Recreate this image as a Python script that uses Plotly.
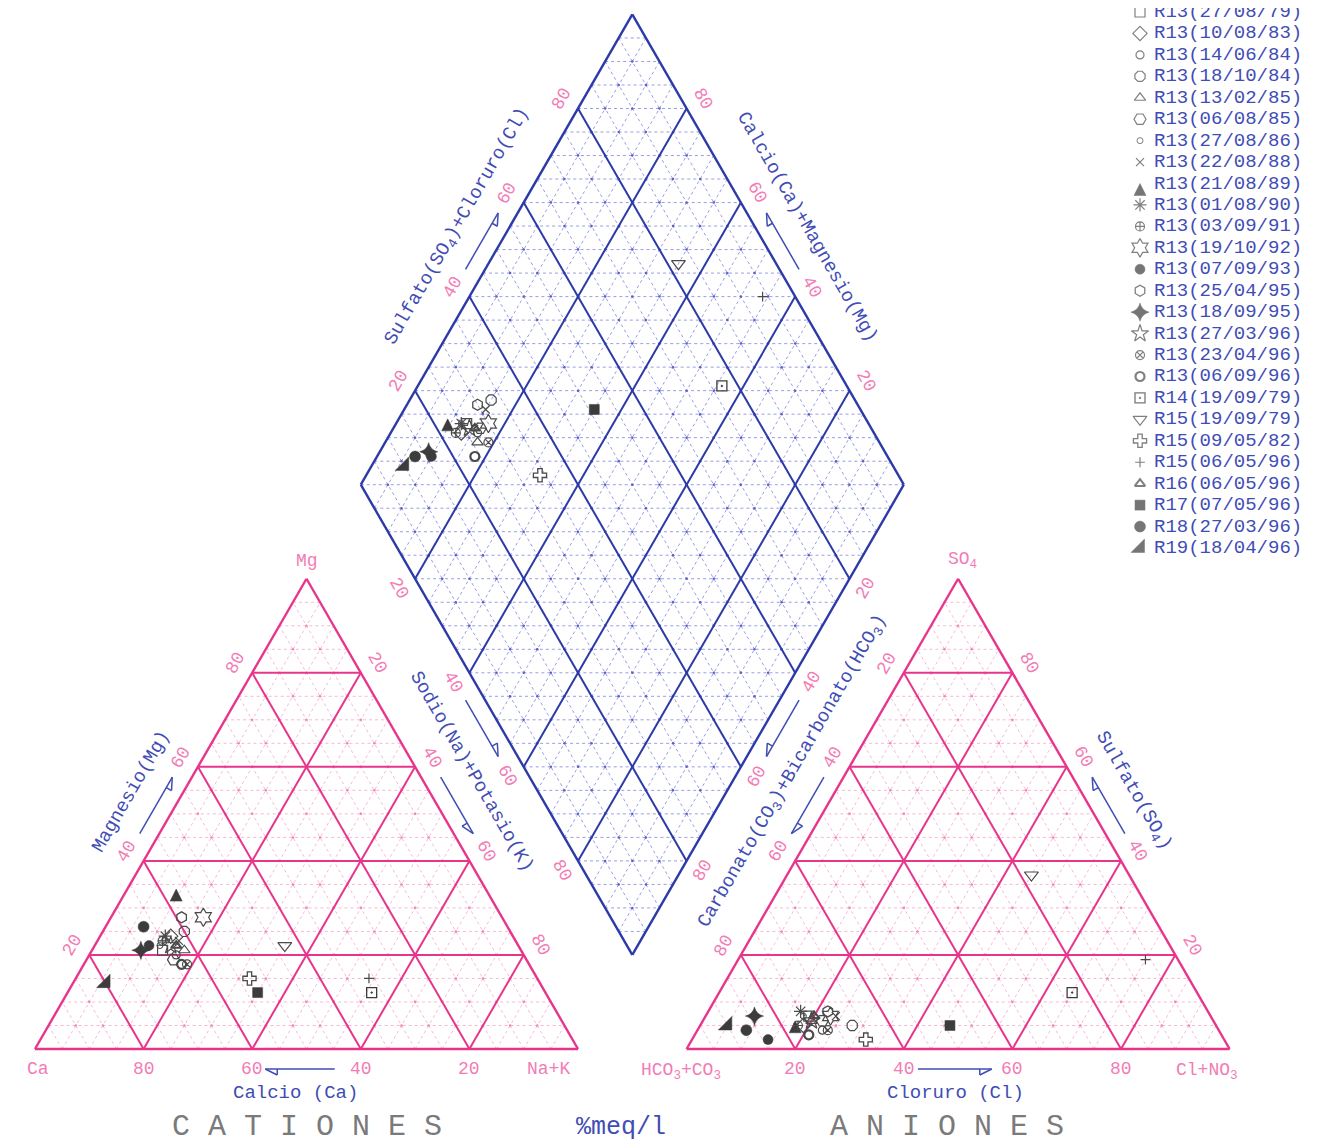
import numpy as np
import plotly.graph_objects as go

# ---------------- data (% meq/l) ----------------
samples = ["R13(27/08/79)", "R13(10/08/83)", "R13(14/06/84)", "R13(18/10/84)",
           "R13(13/02/85)", "R13(06/08/85)", "R13(27/08/86)", "R13(22/08/88)",
           "R13(21/08/89)", "R13(01/08/90)", "R13(03/09/91)", "R13(19/10/92)",
           "R13(07/09/93)", "R13(25/04/95)", "R13(18/09/95)", "R13(27/03/96)",
           "R13(23/04/96)", "R13(06/09/96)", "R14(19/09/79)", "R15(19/09/79)",
           "R15(09/05/82)", "R15(06/05/96)", "R16(06/05/96)", "R17(07/05/96)",
           "R18(27/03/96)", "R19(18/04/96)"]
ca   = [66, 63, 64, 60, 62, 65, 66, 62, 57, 64, 65, 55, 68, 59, 70, 64, 63, 64, 32, 43, 53, 31, 63, 53, 67, 80]
mg   = [21, 24, 20, 25, 21, 19, 22, 23, 34, 24, 23, 28, 22, 28, 21, 22, 18, 18, 12, 22, 15, 15, 22, 12, 26, 14]
nak  = [13, 13, 16, 15, 17, 16, 12, 15,  9, 12, 12, 17, 10, 13,  9, 14, 19, 18, 56, 35, 32, 54, 15, 35,  7,  6]
hco3 = [74, 76, 73, 67, 74, 72, 75, 69, 77, 75, 77, 70, 84, 70, 84, 74, 72, 76, 23, 18, 66,  6, 73, 49, 87, 90]
so4  = [ 7,  5,  4,  5,  6,  6,  7,  7,  6,  8,  5,  7,  2,  8,  7,  6,  4,  3, 12, 37,  2, 19,  7,  5,  4,  5]
cl   = [19, 19, 23, 28, 20, 22, 18, 24, 17, 17, 18, 23, 14, 22,  9, 20, 24, 21, 65, 45, 32, 75, 20, 46,  9,  5]
ticks = [20, 40, 60, 80]

# marker styles (one per sample)
symbols = ["square-open", "diamond-open", "circle-open", "octagon-open", "triangle-up-open",
           "hexagon2-open", "circle-open", "x-thin-open", "arrow-up", "asterisk-open",
           "circle-cross-open", "hexagram-open", "circle", "hexagon-open", "star-diamond",
           "star-open", "circle-x-open", "circle-open", "square-open-dot", "triangle-down-open",
           "cross-open", "cross-thin-open", "triangle-up-open", "square", "circle", "triangle-se"]
msizes = [10, 11, 8, 11, 10, 12, 6, 8, 12, 11, 9, 14, 10, 11, 13, 13, 9, 9, 10, 12, 11, 7, 9, 10, 11, 15]
mwidth = [1.2, 1.2, 1.2, 1.2, 1.2, 1.2, 1.0, 1.2, 0.5, 1.2, 1.2, 1.2, 0.5, 1.3, 0.5, 1.2, 1.2, 2.2, 1.3,
          1.2, 1.3, 1.2, 2.0, 0.5, 0.5, 0.5]

# ---------------- geometry (screen pixels) ----------------
S = 5.43            # pixels per percent unit
OX, OY = 35.0, 1049.0   # screen position of the Ca corner
PAGE = 8            # default body margin of the html page
W, H = 1310, 1140
H3 = np.sqrt(3) / 2


def px_x(p):
    return (p - OX) / S


def px_y(p):
    return (OY - p) / S


def pl(d):
    return d / S


CAT = ((0.0, 0.0), (100.0, 0.0), (50.0, 100 * H3))        # Ca, Na+K, Mg
AN = ((120.0, 0.0), (220.0, 0.0), (170.0, 100 * H3))      # HCO3+CO3, Cl, SO4
DL = (60.0, 120 * H3)                                     # diamond left vertex


def bary(T, p, q, r):
    return ((p * T[0][0] + q * T[1][0] + r * T[2][0]) / 100.0,
            (p * T[0][1] + q * T[1][1] + r * T[2][1]) / 100.0)


def dia(a, b):
    return (DL[0] + 0.5 * (a + b), DL[1] + H3 * (a - b))


def tri_lines(T, vals):
    segs = []
    for v in vals:
        segs.append((bary(T, v, 100 - v, 0), bary(T, v, 0, 100 - v)))
        segs.append((bary(T, 100 - v, v, 0), bary(T, 0, v, 100 - v)))
        segs.append((bary(T, 100 - v, 0, v), bary(T, 0, 100 - v, v)))
    return segs


def dia_lines(vals):
    segs = []
    for v in vals:
        segs.append((dia(v, 0), dia(v, 100)))
        segs.append((dia(0, v), dia(100, v)))
    return segs


def dia_horiz(step):
    segs = []
    for k in range(-100 + step, 100, step):
        if k >= 0:
            segs.append((dia(k, 0), dia(100, 100 - k)))
        else:
            segs.append((dia(0, -k), dia(100 + k, 100)))
    return segs


def seg_xy(segs):
    xs, ys = [], []
    for (p0, p1) in segs:
        xs += [p0[0], p1[0], None]
        ys += [p0[1], p1[1], None]
    return xs, ys


PINK = "#e8358c"
PINK_MINOR = "#f6a6cc"
PINK_TXT = "#f27cb6"
BLUE = "#2c3aa8"
BLUE_MINOR = "#7f84dc"
BLUE_TXT = "#3f4db5"
GREY = "#7a7a7a"
FONT = "Liberation Mono"

fig = go.Figure()


def add_lines(segs, color, width, dash="solid"):
    xs, ys = seg_xy(segs)
    fig.add_trace(go.Scatter(x=xs, y=ys, mode="lines", hoverinfo="skip", showlegend=False,
                             line=dict(color=color, width=width, dash=dash)))


minor = [v for v in range(5, 100, 5) if v % 20 != 0]

# minor grids
add_lines(tri_lines(CAT, minor), PINK_MINOR, 0.8, "dot")
add_lines(tri_lines(AN, minor), PINK_MINOR, 0.8, "dot")
add_lines(dia_lines(minor), BLUE_MINOR, 0.8, "dot")
add_lines(dia_horiz(5), BLUE_MINOR, 0.8, "dot")

# lattice dots
for T in (CAT, AN):
    dx, dy = [], []
    for p in range(5, 100, 5):
        for q in range(5, 100 - p, 5):
            pt = bary(T, p, q, 100 - p - q)
            dx.append(pt[0]); dy.append(pt[1])
    fig.add_trace(go.Scatter(x=dx, y=dy, mode="markers", hoverinfo="skip", showlegend=False,
                             marker=dict(size=2.5, color="#ef86bb")))
dx, dy = [], []
for a in range(5, 100, 5):
    for b in range(5, 100, 5):
        pt = dia(a, b)
        dx.append(pt[0]); dy.append(pt[1])
fig.add_trace(go.Scatter(x=dx, y=dy, mode="markers", hoverinfo="skip", showlegend=False,
                         marker=dict(size=2.5, color="#5a60c8")))

# major grids
add_lines(tri_lines(CAT, ticks), PINK, 2)
add_lines(tri_lines(AN, ticks), PINK, 2)
add_lines(dia_lines(ticks), BLUE, 2)
# outlines
for T in (CAT, AN):
    add_lines([(T[0], T[1]), (T[1], T[2]), (T[2], T[0])], PINK, 2.4)
add_lines([(dia(0, 0), dia(100, 0)), (dia(100, 0), dia(100, 100)),
           (dia(100, 100), dia(0, 100)), (dia(0, 100), dia(0, 0))], BLUE, 2.4)

# ---------------- arrows ----------------
arrow_segs = []


def arrow(tail, tip, side):
    d = np.array(tip) - np.array(tail)
    d = d / np.linalg.norm(d)
    n = np.array(side)
    L, Wd = pl(12), pl(6)
    t = np.array(tip)
    b = t - d * L
    c = b + n * Wd
    arrow_segs.append((tuple(tail), tuple(tip)))
    arrow_segs.append((tuple(t), tuple(c)))
    arrow_segs.append((tuple(c), tuple(b)))


def off(pt, n, dist):
    return (pt[0] + n[0] * pl(dist), pt[1] + n[1] * pl(dist))


NL = (-H3, 0.5)
NR = (H3, 0.5)
NLL = (-H3, -0.5)
NLR = (H3, -0.5)
AO = 17
arrow(off(bary(CAT, 56, 0, 44), NL, AO), off(bary(CAT, 44, 0, 56), NL, AO), (H3, -0.5))
arrow(off(bary(CAT, 0, 44, 56), NR, AO), off(bary(CAT, 0, 56, 44), NR, AO), (-H3, -0.5))
arrow(off(bary(AN, 44, 0, 56), NL, AO), off(bary(AN, 56, 0, 44), NL, AO), (H3, -0.5))
arrow(off(bary(AN, 0, 56, 44), NR, AO), off(bary(AN, 0, 44, 56), NR, AO), (-H3, -0.5))
arrow(off(dia(44, 0), NL, AO), off(dia(56, 0), NL, AO), (H3, -0.5))
arrow(off(dia(100, 56), NR, AO), off(dia(100, 44), NR, AO), (-H3, -0.5))
arrow(off(dia(0, 44), NLL, AO), off(dia(0, 56), NLL, AO), (H3, 0.5))
arrow(off(dia(56, 100), NLR, AO), off(dia(44, 100), NLR, AO), (-H3, 0.5))
arrow((bary(CAT, 44.8, 55.2, 0)[0], -pl(20)), (bary(CAT, 57.6, 42.4, 0)[0], -pl(20)), (0, -1))
arrow((bary(AN, 57.4, 42.6, 0)[0], -pl(20)), (bary(AN, 43.8, 56.2, 0)[0], -pl(20)), (0, -1))
add_lines(arrow_segs, BLUE_TXT, 1.5)

# ---------------- samples ----------------
for i, name in enumerate(samples):
    cpt = bary(CAT, ca[i], nak[i], mg[i])
    apt = bary(AN, hco3[i], cl[i], so4[i])
    dpt = dia(so4[i] + cl[i], nak[i])
    filled = not symbols[i].endswith("open")
    col = "#3c3c3c" if filled else "#4a4a4a"
    fig.add_trace(go.Scatter(
        x=[cpt[0], apt[0], dpt[0]], y=[cpt[1], apt[1], dpt[1]], mode="markers",
        name=name, showlegend=False,
        marker=dict(symbol=symbols[i], size=msizes[i], color=col,
                    line=dict(width=mwidth[i], color=col))))

# ---------------- custom legend ----------------
LEG_X, LEG_Y0, LEG_Y1 = 1140, 12, 548
LEG_DY = (LEG_Y1 - LEG_Y0) / (len(samples) - 1)
leg_y = [px_y(LEG_Y0 + i * LEG_DY) for i in range(len(samples))]
leg_cols = ["#3c3c3c" if not s.endswith("open") else "#4a4a4a" for s in symbols]
fig.add_trace(go.Scatter(
    x=[px_x(LEG_X)] * len(samples), y=leg_y, mode="markers", showlegend=False, hoverinfo="skip",
    marker=dict(symbol=symbols, size=msizes, color=leg_cols, line=dict(width=mwidth, color=leg_cols)),
    cliponaxis=False))

ann = []


def text(x, y, t, size, color, angle=0, xanchor="center", yanchor="middle"):
    ann.append(dict(x=x, y=y, xref="x", yref="y", text=t, showarrow=False, textangle=angle,
                    xanchor=xanchor, yanchor=yanchor,
                    font=dict(family=FONT, size=size, color=color)))


for i, name in enumerate(samples):
    text(px_x(LEG_X + 12), leg_y[i], name, 19, BLUE_TXT, xanchor="left")

# ---------------- tick labels ----------------
LO = 19
for v in ticks:
    s = str(v)
    p = bary(CAT, v, 100 - v, 0); text(p[0], p[1] - pl(20), s, 18, PINK_TXT)
    p = off(bary(CAT, 100 - v, 0, v), NL, LO); text(p[0], p[1], s, 18, PINK_TXT, -60)
    p = off(bary(CAT, 0, v, 100 - v), NR, LO); text(p[0], p[1], s, 18, PINK_TXT, 60)
    p = bary(AN, 100 - v, v, 0); text(p[0], p[1] - pl(20), s, 18, PINK_TXT)
    p = off(bary(AN, v, 0, 100 - v), NL, LO); text(p[0], p[1], s, 18, PINK_TXT, -60)
    p = off(bary(AN, 0, 100 - v, v), NR, LO); text(p[0], p[1], s, 18, PINK_TXT, 60)
    p = off(dia(v, 0), NL, LO); text(p[0], p[1], s, 18, PINK_TXT, -60)
    p = off(dia(100, 100 - v), NR, LO); text(p[0], p[1], s, 18, PINK_TXT, 60)
    p = off(dia(0, v), NLL, LO); text(p[0], p[1], s, 18, PINK_TXT, 60)
    p = off(dia(100 - v, 100), NLR, LO); text(p[0], p[1], s, 18, PINK_TXT, -60)

# corner labels
text(CAT[0][0] + pl(3), -pl(20), "Ca", 18, PINK_TXT)
text(CAT[1][0] - pl(30), -pl(20), "Na+K", 18, PINK_TXT)
text(CAT[2][0], CAT[2][1] + pl(18), "Mg", 18, PINK_TXT)
text(AN[0][0] - pl(6), -pl(22), "HCO<sub>3</sub>+CO<sub>3</sub>", 18, PINK_TXT)
text(AN[1][0] - pl(23), -pl(22), "Cl+NO<sub>3</sub>", 18, PINK_TXT)
text(AN[2][0] + pl(4), AN[2][1] + pl(18), "SO<sub>4</sub>", 18, PINK_TXT)

# axis titles
TO = 45
p = off(bary(CAT, 50, 0, 50), NL, TO); text(p[0], p[1], "Magnesio(Mg)", 19, BLUE_TXT, -60)
p = off(bary(AN, 0, 50, 50), NR, TO); text(p[0], p[1], "Sulfato(SO<sub>4</sub>)", 19, BLUE_TXT, 60)
p = off(dia(50, 0), NL, TO); text(p[0], p[1], "Sulfato(SO<sub>4</sub>)+Cloruro(Cl)", 19, BLUE_TXT, -60)
p = off(dia(100, 50), NR, TO); text(p[0], p[1], "Calcio(Ca)+Magnesio(Mg)", 19, BLUE_TXT, 60)
p = off(bary(CAT, 0, 46, 54), NR, 47); text(p[0], p[1], "Sodio(Na)+Potasio(K)", 19, BLUE_TXT, 60)
p = off(bary(AN, 46, 0, 54), NL, 47)
text(p[0], p[1], "Carbonato(CO<sub>3</sub>)+Bicarbonato(HCO<sub>3</sub>)", 19, BLUE_TXT, -60)
text(48, -pl(44), "Calcio (Ca)", 19, BLUE_TXT)
text(169.5, -pl(44), "Cloruro (Cl)", 19, BLUE_TXT)
text(50, -pl(78), "C A T I O N E S", 30, GREY)
text(168, -pl(78), "A N I O N E S", 30, GREY)
text(108, -pl(78), "%meq/l", 25, BLUE_TXT)

fig.update_layout(
    width=W, height=H, margin=dict(l=0, r=0, t=0, b=0),
    paper_bgcolor="white", plot_bgcolor="white", showlegend=False,
    xaxis=dict(range=[px_x(PAGE), px_x(PAGE + W)], visible=False, fixedrange=True),
    yaxis=dict(range=[px_y(PAGE + H), px_y(PAGE)], visible=False, fixedrange=True),
    annotations=ann,
)

fig.write_html("out.html")
